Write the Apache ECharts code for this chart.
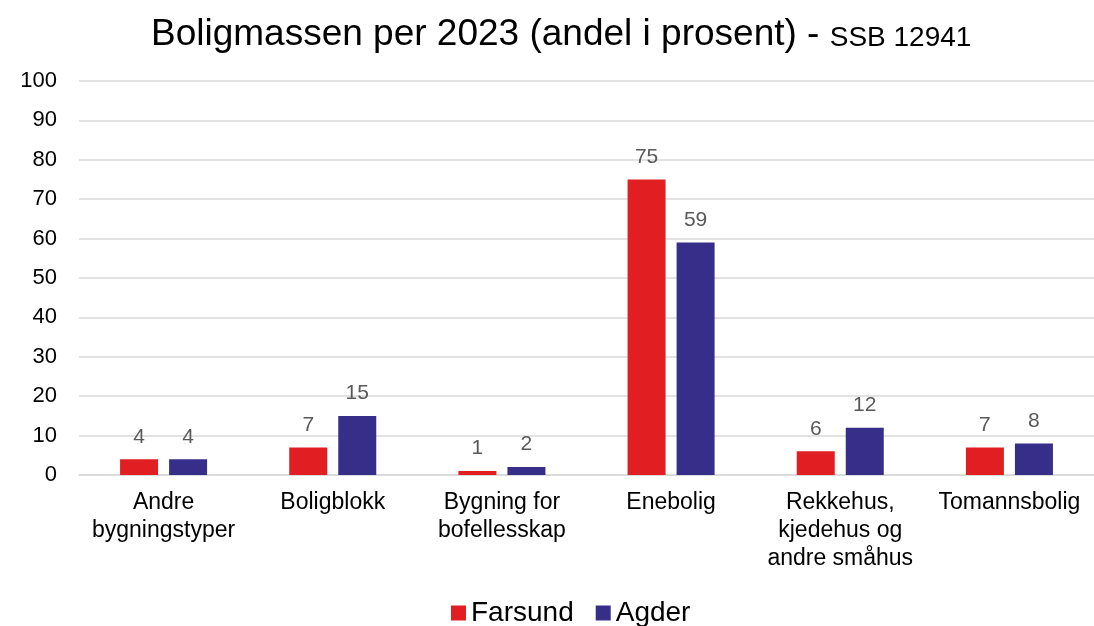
<!DOCTYPE html>
<html>
<head>
<meta charset="utf-8">
<script src="https://cdn.jsdelivr.net/npm/echarts@6/dist/echarts.min.js"></script>
<style>
  html, body { margin: 0; padding: 0; background: #fff; }
  #chart { width: 1094px; height: 626px; }
</style>
</head>
<body>
<div id="chart"></div>
<script>
var categories = ['Andre\nbygningstyper', 'Boligblokk', 'Bygning for\nbofellesskap', 'Enebolig', 'Rekkehus,\nkjedehus og\nandre småhus', 'Tomannsbolig'];
var farsund = [4, 7, 1, 75, 6, 7];
var agder = [4, 15, 2, 59, 12, 8];

var chart = echarts.init(document.getElementById('chart'));

var font = 'Liberation Sans, Arial';

// 数据标签
var labelStyle = {
  show: true,
  position: 'top',
  distance: 12,
  color: '#595959',
  fontSize: 21,
  fontFamily: font
};

var option = {
  animation: false,
  // 标题
  title: {
    text: '{a|Boligmassen per 2023 (andel i prosent) - }{b|SSB 12941}',
    left: 146,
    top: 11,
    textStyle: {
      fontWeight: 'normal',
      rich: {
        a: { fontSize: 37, color: '#000', fontFamily: font, fontWeight: 'normal' },
        b: { fontSize: 28, color: '#000', fontFamily: font, fontWeight: 'normal', padding: [8, 0, 0, 0] }
      }
    }
  },
  // 图例
  legend: {
    top: 594,
    left: 446,
    icon: 'rect',
    itemWidth: 15,
    itemHeight: 15,
    itemGap: 22,
    textStyle: { fontSize: 28, color: '#000', fontFamily: font },
    data: ['Farsund', 'Agder']
  },
  grid: {
    left: 79,
    top: 81,
    width: 1018,
    height: 394
  },
  xAxis: {
    type: 'category',
    data: categories,
    axisTick: { show: false },
    axisLine: { lineStyle: { color: '#d9d9d9', width: 1.5 } },
    axisLabel: {
      color: '#000',
      fontSize: 23,
      lineHeight: 28,
      margin: 14,
      interval: 0,
      fontFamily: font
    }
  },
  yAxis: {
    type: 'value',
    min: 0,
    max: 100,
    interval: 10,
    axisLabel: {
      color: '#000',
      fontSize: 22,
      margin: 22,
      fontFamily: font
    },
    splitLine: { lineStyle: { color: '#d9d9d9', width: 1.5 } }
  },
  series: [
    {
      name: 'Farsund',
      type: 'bar',
      data: farsund,
      barWidth: 38,
      barGap: '29%',
      itemStyle: { color: '#E11F22' },
      label: labelStyle
    },
    {
      name: 'Agder',
      type: 'bar',
      data: agder,
      barWidth: 38,
      itemStyle: { color: '#362E88' },
      label: labelStyle
    }
  ]
};

chart.setOption(option);
</script>
</body>
</html>
